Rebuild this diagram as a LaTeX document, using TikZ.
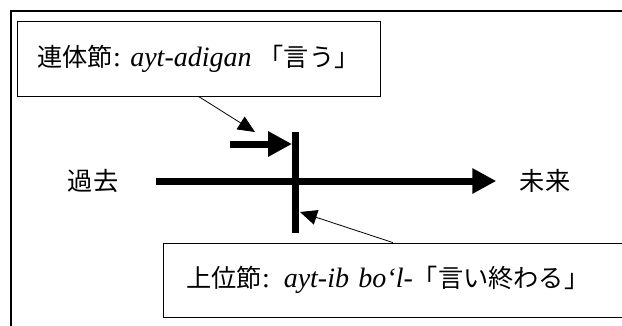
\documentclass[tikz,border=0pt]{standalone}
\usepackage{fontspec}
\setmainfont{Liberation Serif}
\newfontfamily\jp{Noto Sans CJK JP}[Scale=0.9]
\usetikzlibrary{arrows.meta}
\begin{document}
\begin{tikzpicture}[x=1pt,y=-1pt,
  every node/.style={font=\fontsize{28}{34}\selectfont},
  clausebox/.style={draw,line width=0.8pt,inner sep=0pt},
  timeline/.style={line width=7pt,-{Triangle[length=24pt,width=24pt]}},
  pointer/.style={line width=0.8pt,-{Triangle[length=17pt,width=15pt]}}]
\clip (0,0) rectangle (622,325);
\draw[line width=1.6pt] (11,340) |- (640,11);

\node[clausebox,minimum width=363pt,minimum height=75pt] (rentai) at (198.5,58.5)
  {{\jp 連体節}: \textit{ayt-adigan} {\jp 「言う」}};
\node[clausebox,anchor=west,minimum height=74pt,inner xsep=23pt,text width=440pt,align=left] (joui) at (163,280)
  {{\jp 上位節}: \textit{ayt-ib bo‘l-}{\jp 「言い終わる」}};

\node (kako) at (93,181) {\jp 過去};
\node (mirai) at (545,181) {\jp 未来};
\draw[timeline,shorten <=34pt,shorten >=20pt] (kako) -- (mirai);

\coordinate (bartop) at (295,132);
\coordinate (barbot) at (295,233);
\draw[line width=7pt] (bartop) -- (barbot);

\coordinate (start) at (230,144);
\coordinate (hit) at (292,144);
\draw[timeline] (start) -- (hit);

\coordinate (starttip) at (255,132);
\draw[pointer] (rentai.south) -- (starttip);
\coordinate (bartip) at (300,212);
\draw[pointer] ([xshift=230pt]joui.north west) -- (bartip);
\end{tikzpicture}
\end{document}
